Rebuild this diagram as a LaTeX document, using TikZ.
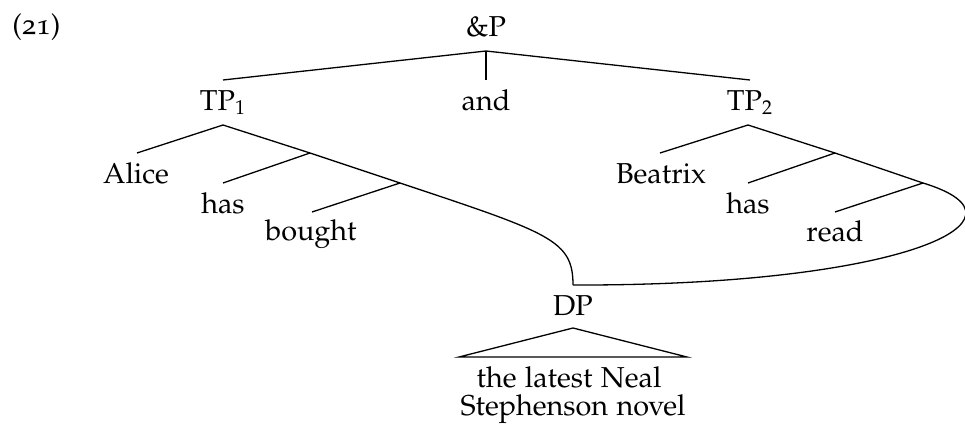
\documentclass[tikz,border=0pt]{standalone}
\usepackage[T1]{fontenc}
\usepackage[osf]{mathpazo}
\begin{document}
\begin{tikzpicture}[x=0.5pt,y=-0.5pt,
  lbl/.style={anchor=base,inner sep=0pt,font=\fontsize{14.4}{14}\selectfont},
  br/.style={line width=0.65pt,line join=miter}]
\useasboundingbox (0,0) rectangle (965,428);

% example number
\node[lbl,anchor=base west] (exnum) at (12,34) {(21)};

% labels
\node[lbl] (andp)    at (486,36)  {\&P};
\node[lbl] (tp1)     at (223,110) {TP$_1$};
\node[lbl] (conj)    at (486,110) {and};
\node[lbl] (tp2)     at (750,110) {TP$_2$};
\node[lbl] (alice)   at (136,183) {Alice};
\node[lbl] (hasA)    at (223,213) {has};
\node[lbl] (bought)  at (311,240) {bought};
\node[lbl] (beatrix) at (661,183) {Beatrix};
\node[lbl] (hasB)    at (748,213) {has};
\node[lbl] (read)    at (835,241) {read};
\node[lbl] (dp)      at (573,315) {DP};
\node[lbl] (objA)    at (569,387) {the latest Neal};
\node[lbl] (objB)    at (573,415) {Stephenson novel};

% branching points
\coordinate (andp-b)   at (486,51);
\coordinate (tp1-t)    at (223,80);
\coordinate (conj-t)   at (486,80);
\coordinate (tp2-t)    at (750,80);
\coordinate (tp1-b)    at (223,125);
\coordinate (tp1-m)    at (310,153);
\coordinate (tp1-r)    at (400,183);
\coordinate (alice-t)  at (137,153);
\coordinate (hasA-t)   at (223,183);
\coordinate (bought-t) at (312,212);
\coordinate (tp2-b)    at (748,125);
\coordinate (tp2-m)    at (835,153);
\coordinate (tp2-r)    at (923,183);
\coordinate (beatrix-t) at (660,153);
\coordinate (hasB-t)   at (748,183);
\coordinate (read-t)   at (835,212);
\coordinate (dp-t)     at (573,285);
\coordinate (dp-b)     at (573,328);
\coordinate (tri-l)    at (459,357);
\coordinate (tri-r)    at (687,357);

% coordination
\draw[br] (tp1-t) -- (andp-b) -- (tp2-t);
\draw[br] (andp-b) -- (conj-t);

% first conjunct
\draw[br] (alice-t) -- (tp1-b) -- (tp1-m) -- (tp1-r);
\draw[br] (hasA-t) -- (tp1-m);
\draw[br] (bought-t) -- (tp1-r);

% second conjunct
\draw[br] (beatrix-t) -- (tp2-b) -- (tp2-m) -- (tp2-r);
\draw[br] (hasB-t) -- (tp2-m);
\draw[br] (read-t) -- (tp2-r);

% shared object
\draw[br] (tp1-r) .. controls (550,233) and (573,240) .. (dp-t);
\draw[br] (dp-t) .. controls (900,286) and (1045,220) .. (tp2-r);

% triangle
\draw[br] (dp-b) -- (tri-l) -- (tri-r) -- cycle;
\end{tikzpicture}
\end{document}
